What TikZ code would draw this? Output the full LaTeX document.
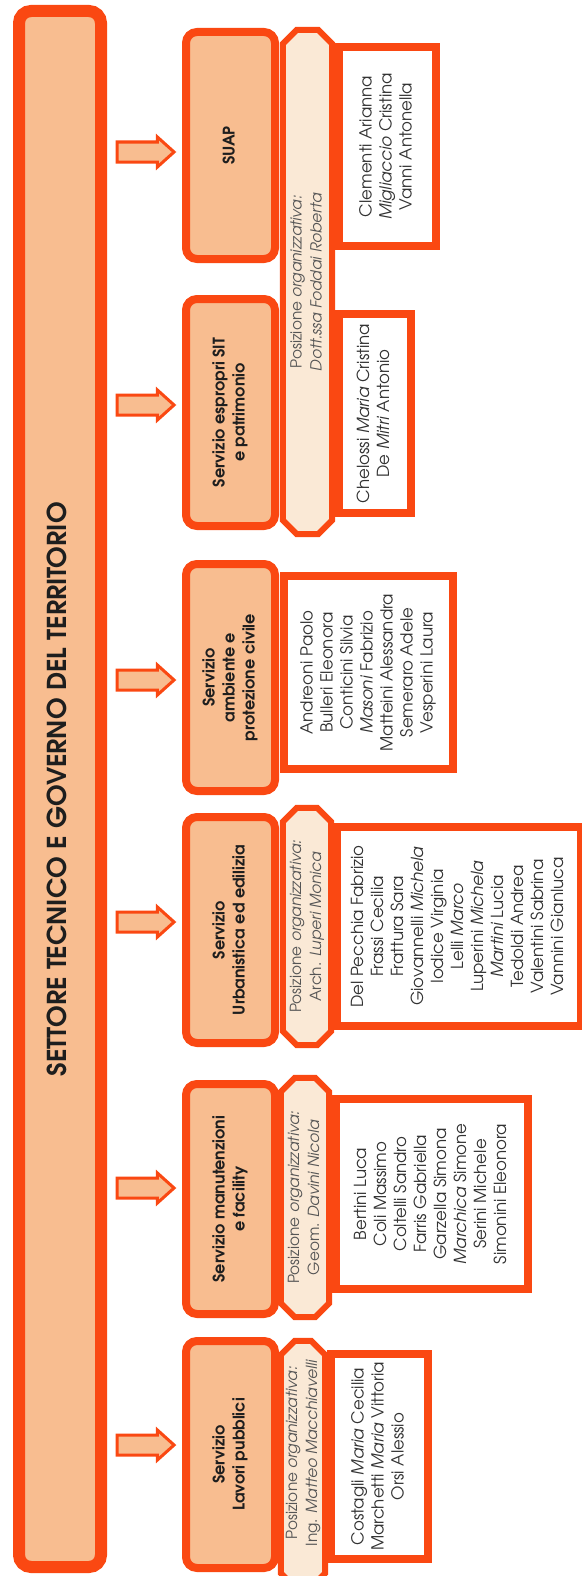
\documentclass[tikz,border=0pt]{standalone}
\usepackage{fontspec}
\setmainfont{TeX Gyre Adventor}
\usetikzlibrary{shapes.arrows}

\definecolor{orgline}{RGB}{250,72,18}
\definecolor{peach}{RGB}{248,189,144}
\definecolor{cream}{RGB}{250,233,214}
\definecolor{nametext}{RGB}{50,50,50}
\definecolor{postext}{RGB}{85,85,85}
\definecolor{titletext}{RGB}{30,30,30}

% vertical (bottom-to-top) centred text block
\newcommand\vtext[1]{\rotatebox{90}{\begin{tabular}{@{}c@{}}#1\end{tabular}}}

% octagonal outline with cut corners around a named area node
\newcommand\chamferbox[2]{%
  \draw[posline] ([yshift=-#2]#1.north west) -- ([xshift=#2]#1.north west)
    -- ([xshift=-#2]#1.north east) -- ([yshift=-#2]#1.north east)
    -- ([yshift=#2]#1.south east) -- ([xshift=-#2]#1.south east)
    -- ([xshift=#2]#1.south west) -- ([yshift=#2]#1.south west) -- cycle;}

\tikzset{
  mainbox/.style={rectangle, draw=orgline, fill=peach, line width=12pt,
    rounded corners=12pt, inner sep=0pt, text=titletext,
    font=\fontsize{26}{30}\selectfont\bfseries},
  svcbox/.style={rectangle, draw=orgline, fill=peach, line width=8pt,
    rounded corners=11pt, inner sep=0pt, text=titletext,
    font=\fontsize{16}{20}\selectfont\bfseries},
  posarea/.style={rectangle, inner sep=0pt},
  posline/.style={draw=orgline, fill=cream, line width=6pt, line join=miter},
  postxt/.style={inner sep=0pt, text=postext, font=\fontsize{15.3}{20}\selectfont},
  listbox/.style={rectangle, draw=orgline, fill=white, line width=8pt,
    inner sep=0pt, text=nametext, font=\fontsize{16.6}{20}\selectfont},
  blockarrow/.style={single arrow, draw=orgline, fill=peach, line width=3pt,
    inner xsep=0pt, inner ysep=8.5pt,
    single arrow head extend=5pt, single arrow tip angle=84,
    minimum height=57pt},
}

\begin{document}
\begin{tikzpicture}[x=1pt,y=-1pt]
\path[use as bounding box] (0,0) rectangle (581,1576);

% sector box
\node[mainbox, minimum width=82pt, minimum height=1556pt] (main) at (60,789)
  {\vtext{SETTORE TECNICO E GOVERNO DEL TERRITORIO}};

% arrows towards the services
\node[blockarrow] (a1) at (140,152) {};
\node[blockarrow] (a2) at (140,405) {};
\node[blockarrow] (a3) at (140,680) {};
\node[blockarrow] (a4) at (140,922) {};
\node[blockarrow] (a5) at (140,1188) {};
\node[blockarrow] (a6) at (140,1445) {};

% services
\node[svcbox, minimum width=89pt, minimum height=227pt] (s1) at (230.5,145.5)
  {\vtext{SUAP}};
\node[svcbox, minimum width=89pt, minimum height=227pt] (s2) at (230.5,412.5)
  {\vtext{Servizio espropri SIT\\e patrimonio}};
\node[svcbox, minimum width=89pt, minimum height=227pt] (s3) at (230.5,677.5)
  {\vtext{Servizio\\ambiente e\\protezione civile}};
\node[svcbox, minimum width=89pt, minimum height=226pt] (s4) at (230.5,930)
  {\vtext{Servizio\\Urbanistica ed edilizia}};
\node[svcbox, minimum width=89pt, minimum height=230pt] (s5) at (230.5,1199)
  {\vtext{Servizio manutenzioni\\e facility}};
\node[svcbox, minimum width=89pt, minimum height=227pt] (s6) at (230.5,1454.5)
  {\vtext{Servizio\\Lavori pubblici}};

% organisational positions
\node[posarea, minimum width=49pt, minimum height=504pt] (pA) at (307.5,282) {};
\chamferbox{pA}{14pt}
\node[postxt] (pAt) at (pA) {\vtext{Posizione \textit{organizzativa:}\\\textit{Dott.ssa Foddai Roberta}}};

\node[posarea, minimum width=48pt, minimum height=237pt] (pU) at (307,926.5) {};
\chamferbox{pU}{14pt}
\node[postxt] (pUt) at (pU) {\vtext{Posizione \textit{organizzativa:}\\Arch. \textit{Luperi Monica}}};

\node[posarea, minimum width=48pt, minimum height=239pt] (pM) at (305,1197.5) {};
\chamferbox{pM}{14pt}
\node[postxt] (pMt) at (pM) {\vtext{Posizione \textit{organizzativa:}\\Geom. \textit{Davini Nicola}}};

\node[posarea, minimum width=44pt, minimum height=246pt] (pL) at (303,1464) {};
\chamferbox{pL}{14pt}
\node[postxt] (pLt) at (303,1453) {\vtext{Posizione \textit{organizzativa:}\\Ing. \textit{Matteo Macchiavelli}}};

% staff lists
\node[listbox, minimum width=97pt, minimum height=199pt] (l1) at (387.5,146.5)
  {\vtext{Clementi Arianna\\\textit{Migliaccio} Cristina\\Vanni Antonella}};
\node[listbox, minimum width=72pt, minimum height=199pt] (l2) at (375,413.5)
  {\vtext{Chelossi \textit{Maria} Cristina\\De \textit{Mitri} Antonio}};
\node[listbox, minimum width=169pt, minimum height=193pt] (l3) at (368.5,672.5)
  {\vtext{Andreoni Paolo\\Bulleri Eleonora\\Conticini Silvia\\\textit{Masoni} Fabrizio\\Matteini Alessandra\\Semeraro Adele\\Vesperini Laura}};
\node[listbox, minimum width=244pt, minimum height=199pt] (l4) at (459,926.5)
  {\vtext{Del Pecchia Fabrizio\\Frassi Cecilia\\Frattura Sara\\Giovannelli \textit{Michela}\\Iodice Virginia\\Lelli \textit{Marco}\\Luperini \textit{Michela}\\\textit{Martini} Lucia\\Tedoldi Andrea\\Valentini Sabrina\\Vannini Gianluca}};
\node[listbox, minimum width=192pt, minimum height=190pt] (l5) at (432,1194)
  {\vtext{Bertini Luca\\Coli Massimo\\Coltelli Sandro\\Farris Gabriella\\Garzella Simona\\\textit{Marchica} Simone\\Serini Michele\\Simonini Eleonora}};
\node[listbox, minimum width=97pt, minimum height=205pt] (l6) at (379.5,1456.5)
  {\vtext{Costagli \textit{Maria} Cecilia\\Marchetti \textit{Maria} Vittoria\\Orsi Alessio}};
\end{tikzpicture}
\end{document}
